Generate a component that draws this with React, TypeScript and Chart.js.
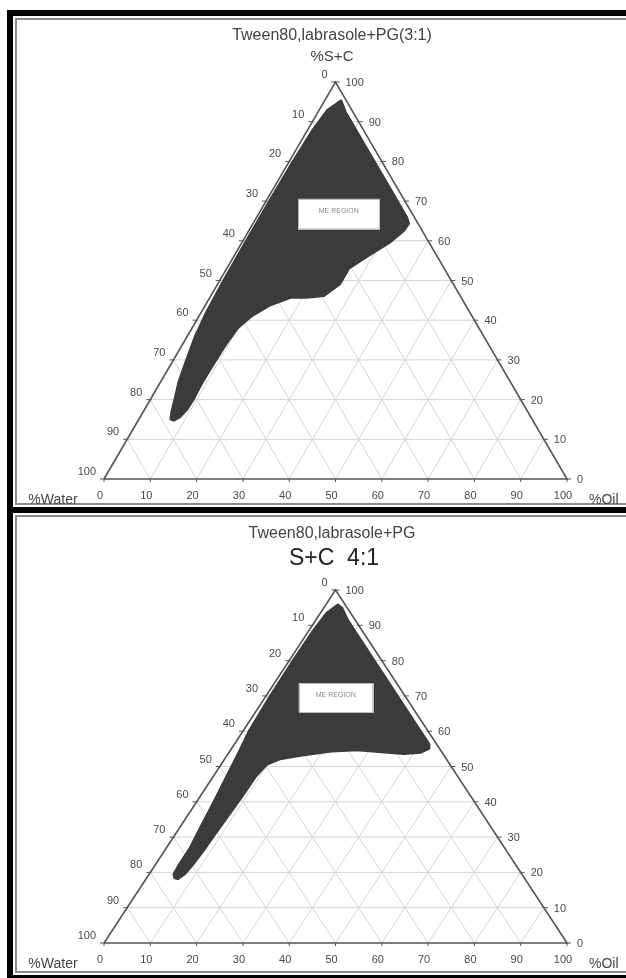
import React, { useEffect, useRef } from "react";
import { Chart, registerables } from "chart.js";

Chart.register(...registerables);

// ---------- data ----------
const TICK_VALUES = [0, 10, 20, 30, 40, 50, 60, 70, 80, 90, 100];
const GRID_VALUES = [10, 20, 30, 40, 50, 60, 70, 80, 90];

const TITLE_1 = "Tween80,labrasole+PG(3:1)";
const SUBTITLE_1 = "%S+C";
const TITLE_2 = "Tween80,labrasole+PG";
const SUBTITLE_2 = "S+C  4:1";
const AXIS_WATER = "%Water";
const AXIS_OIL = "%Oil";
const REGION_LABEL = "ME REGION";

// microemulsion region boundary, panel 1 (Oil %, S+C %)
const region1Oil = [3.5, 6, 9.5, 13.5, 17.5, 21.5, 25.5, 29.5, 32.5, 33.8, 33.6, 32, 29, 26.5, 26.5, 24.5, 21, 17.5, 14, 11.5, 10, 9.5, 9.3, 9.2, 9.4, 9.3, 8.7, 7.8, 6.8, 6, 5, 3.8, 2.7, 1.6, 1, 0.7, 0.6, 0.6, 0.7, 1, 1.7, 3.5];
const region1Smix = [95.5, 92.5, 89, 85, 81, 77, 73, 69, 66, 64.3, 62.5, 59.5, 56, 53, 49, 46, 45.6, 45.6, 43.6, 41, 38, 34, 29, 24, 20, 17.5, 15.5, 14.6, 15, 17, 20.5, 24.5, 30, 36, 42, 50, 60, 70, 80, 88, 93, 95.5];

// microemulsion region boundary, panel 2 (Oil %, S+C %)
const region2Oil = [2.5, 4, 7, 10.5, 14.5, 18.5, 23, 27.5, 32, 36, 39.5, 42.2, 42.8, 41.5, 38, 33, 27.5, 22, 16, 12, 10, 9.3, 9.2, 9, 8.7, 8.5, 8.2, 7.8, 7, 6, 5.2, 5, 5, 4.3, 3.6, 2.8, 2, 1.2, 0.8, 0.7, 0.8, 1.2, 2.5];
const region2Smix = [96, 95, 91.5, 88, 84, 80, 75.5, 71, 66.5, 62.5, 59, 56.3, 55, 53.8, 53.5, 54, 54.5, 54.2, 53, 52, 50.5, 47, 42, 37, 31, 26, 22, 19.5, 18, 18.3, 19.5, 22, 27, 33, 40, 47, 54, 60, 70, 80, 88, 93.5, 96];

// where the "ME REGION" label sits (Oil %, S+C %)
const label1At = [17.3, 66.8];
const label2At = [15.3, 69.5];

// ---------- helpers ----------
const FONT = "'Liberation Sans', Arial, Helvetica, sans-serif";

function tern(oil: number, smix: number) {
  return { x: oil + smix / 2, y: smix };
}

type PanelCfg = {
  top: number;
  height: number;
  padding: { left: number; right: number; top: number; bottom: number };
  regionOil: number[];
  regionSmix: number[];
  labelAt: number[];
  boxW: number;
  boxH: number;
};

const decorPlugin = {
  id: "ternaryDecor",
  beforeDatasetDraw(chart: any, args: any) {
    const ds = chart.data.datasets[args.index];
    if (!ds.isRegion) return;
    const pts = args.meta.data;
    if (!pts || !pts.length) return;
    const ctx = chart.ctx;
    ctx.save();
    ctx.beginPath();
    pts.forEach((p: any, i: number) => {
      if (i === 0) ctx.moveTo(p.x, p.y);
      else ctx.lineTo(p.x, p.y);
    });
    ctx.closePath();
    ctx.fillStyle = ds.regionFill;
    ctx.fill();
    ctx.restore();
  },
  afterDatasetsDraw(chart: any, _args: any, opts: any) {
    const ctx = chart.ctx;
    const xs = chart.scales.x;
    const ys = chart.scales.y;
    const px = (oil: number, smix: number) => [
      xs.getPixelForValue(oil + smix / 2),
      ys.getPixelForValue(smix),
    ];
    ctx.save();
    ctx.strokeStyle = "#555";
    ctx.lineWidth = 1;
    ctx.fillStyle = "#4a4a4a";
    ctx.font = `11px ${FONT}`;
    ctx.textBaseline = "middle";
    for (const v of TICK_VALUES) {
      // bottom axis: % Oil
      let [x, y] = px(v, 0);
      ctx.beginPath();
      ctx.moveTo(x, y);
      ctx.lineTo(x, y + 3);
      ctx.stroke();
      ctx.textAlign = "center";
      ctx.fillText(String(v), x - 4, y + 17);
      // right side: % S+C
      [x, y] = px(100 - v, v);
      ctx.beginPath();
      ctx.moveTo(x - 1, y);
      ctx.lineTo(x + 4, y);
      ctx.stroke();
      ctx.textAlign = "left";
      ctx.fillText(String(v), x + 10, y + 1);
      // left side: % Water
      [x, y] = px(0, 100 - v);
      ctx.beginPath();
      ctx.moveTo(x - 4, y);
      ctx.lineTo(x + 1, y);
      ctx.stroke();
      ctx.textAlign = "right";
      ctx.fillText(String(v), x - 8, y - 7);
    }
    // axis names
    ctx.font = `14px ${FONT}`;
    ctx.fillStyle = "#444";
    let [bx, by] = px(0, 0);
    ctx.textAlign = "center";
    ctx.fillText(AXIS_WATER, bx - 51, by + 21);
    [bx, by] = px(100, 0);
    ctx.textAlign = "left";
    ctx.fillText(AXIS_OIL, bx + 22, by + 21);

    // ME REGION box
    const [lx, ly] = px(opts.labelAt[0], opts.labelAt[1]);
    const w = opts.boxW;
    const h = opts.boxH;
    ctx.fillStyle = "#ffffff";
    ctx.fillRect(lx - w / 2, ly - h / 2, w, h);
    ctx.strokeStyle = "#bbbbbb";
    ctx.lineWidth = 1;
    ctx.strokeRect(Math.round(lx - w / 2) + 0.5, Math.round(ly - h / 2) + 0.5, w, h);
    ctx.fillStyle = "#8a8a8a";
    ctx.font = `7px ${FONT}`;
    ctx.textAlign = "center";
    ctx.fillText(REGION_LABEL, lx, ly - 3);
    ctx.restore();
  },
};

function TernaryPanel({ cfg }: { cfg: PanelCfg }) {
  const ref = useRef<HTMLCanvasElement>(null);
  useEffect(() => {
    const canvas = ref.current;
    if (!canvas) return;
    const datasets: any[] = [];
    datasets.push({
      label: "edges",
      data: [tern(0, 0), tern(100, 0), tern(0, 100), tern(0, 0)],
      showLine: true,
      borderColor: "#555555",
      borderWidth: 1.6,
      pointRadius: 0,
      fill: false,
      order: 0,
      clip: false,
    });
    datasets.push({
      label: "region",
      isRegion: true,
      regionFill: "#3b3b3b",
      data: cfg.regionOil.map((o, i) => tern(o, cfg.regionSmix[i])),
      showLine: true,
      borderColor: "#3b3b3b",
      borderWidth: 1.5,
      pointRadius: 0,
      fill: false,
      order: 1,
      clip: false,
    });
    for (const g of GRID_VALUES) {
      const lines = [
        [tern(0, g), tern(100 - g, g)],
        [tern(g, 0), tern(g, 100 - g)],
        [tern(100 - g, 0), tern(0, 100 - g)],
      ];
      for (const l of lines) {
        datasets.push({
          label: "grid",
          data: l,
          showLine: true,
          borderColor: "#d4d4d4",
          borderWidth: 1,
          pointRadius: 0,
          fill: false,
          order: 2,
        });
      }
    }
    const chart = new Chart(canvas, {
      type: "scatter",
      data: { datasets },
      options: {
        responsive: false,
        maintainAspectRatio: false,
        animation: false,
        events: [],
        layout: { padding: cfg.padding },
        scales: {
          x: { type: "linear", min: 0, max: 100, display: false },
          y: { type: "linear", min: 0, max: 100, display: false },
        },
        plugins: {
          legend: { display: false },
          tooltip: { enabled: false },
          ternaryDecor: { labelAt: cfg.labelAt, boxW: cfg.boxW, boxH: cfg.boxH },
        } as any,
      },
      plugins: [decorPlugin as any],
    });
    return () => chart.destroy();
  }, [cfg]);
  return (
    <canvas
      ref={ref}
      width={626}
      height={cfg.height}
      style={{ position: "absolute", left: 0, top: cfg.top, width: 626, height: cfg.height }}
    />
  );
}

const panel1: PanelCfg = {
  top: 16,
  height: 491,
  padding: { left: 104, right: 59, top: 66, bottom: 28 },
  regionOil: region1Oil,
  regionSmix: region1Smix,
  labelAt: label1At,
  boxW: 81,
  boxH: 30,
};

const panel2: PanelCfg = {
  top: 513,
  height: 462,
  padding: { left: 104, right: 59, top: 77, bottom: 32 },
  regionOil: region2Oil,
  regionSmix: region2Smix,
  labelAt: label2At,
  boxW: 74,
  boxH: 29,
};

function Text({ x, y, size, color, children }: any) {
  return (
    <div
      style={{
        position: "absolute",
        left: x,
        top: y,
        transform: "translate(-50%, -50%)",
        fontFamily: FONT,
        fontSize: size,
        color,
        lineHeight: 1,
        whiteSpace: "pre",
      }}
    >
      {children}
    </div>
  );
}

export default function App() {
  return (
    <div
      style={{
        position: "absolute",
        left: 0,
        top: 0,
        width: 626,
        height: 978,
        background: "#fff",
        overflow: "hidden",
      }}
    >
      <div style={{ position: "absolute", left: 7, top: 10, width: 640, height: 980, background: "#000" }} />
      <div style={{ position: "absolute", left: 13, top: 16, width: 640, height: 491, background: "#fff" }}>
        <div style={{ position: "absolute", left: 2, top: 2, width: 640, height: 483, border: "2px solid #8c8c8c" }} />
      </div>
      <div style={{ position: "absolute", left: 13, top: 513, width: 640, height: 462, background: "#fff" }}>
        <div style={{ position: "absolute", left: 2, top: 2, width: 640, height: 454, border: "2px solid #8c8c8c" }} />
      </div>
      <TernaryPanel cfg={panel1} />
      <TernaryPanel cfg={panel2} />
      <Text x={332} y={35} size={16} color="#444">{TITLE_1}</Text>
      <Text x={332} y={55} size={15} color="#444">{SUBTITLE_1}</Text>
      <Text x={332} y={533} size={16} color="#444">{TITLE_2}</Text>
      <Text x={334} y={557} size={23} color="#222">{SUBTITLE_2}</Text>
    </div>
  );
}
